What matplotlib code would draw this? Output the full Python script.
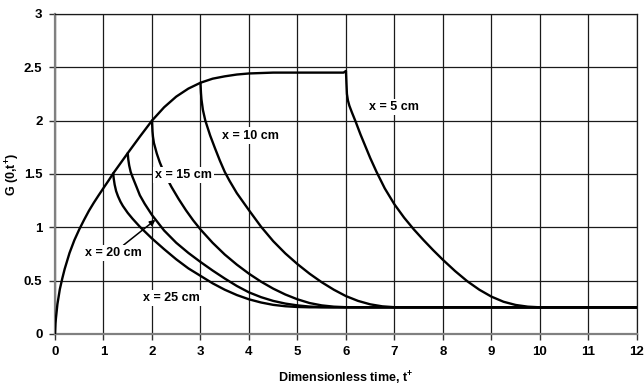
import matplotlib
matplotlib.use('Agg')
import matplotlib.pyplot as plt

plt.rcParams['font.family'] = ['Liberation Sans', 'DejaVu Sans']
plt.rcParams['font.weight'] = 'bold'
plt.rcParams['mathtext.fontset'] = 'custom'
plt.rcParams['mathtext.rm'] = 'Liberation Sans:bold'
plt.rcParams['mathtext.default'] = 'rm'

# surface response while the source is on
t_rise = [0, 0.01, 0.02, 0.05, 0.1, 0.15, 0.2, 0.3, 0.4, 0.5, 0.6, 0.7, 0.8, 0.9,
          1.0, 1.1, 1.2, 1.35, 1.5, 1.75, 2.0, 2.25, 2.5, 2.75, 3.0, 3.25, 3.5,
          3.75, 4.0, 4.5, 5.0, 5.5, 5.95, 6.0]
g_rise = [0, 0.10, 0.15, 0.28, 0.42, 0.52, 0.61, 0.76, 0.88, 0.98, 1.07, 1.155, 1.23, 1.30,
          1.368, 1.435, 1.505, 1.60, 1.695, 1.85, 2.00, 2.125, 2.225, 2.30, 2.355, 2.393, 2.415,
          2.432, 2.442, 2.45, 2.45, 2.45, 2.45, 2.465]

# decay after the source is switched off, one branch per distance
t_x5 = [6.0, 6.01, 6.02, 6.04, 6.07, 6.12, 6.2, 6.3, 6.4, 6.5, 6.63, 6.8, 7.0, 7.2,
        7.4, 7.6, 7.8, 8.0, 8.25, 8.5, 8.75, 9.0, 9.25, 9.5, 9.75, 10.0, 12.0]
g_x5 = [2.465, 2.35, 2.25, 2.19, 2.14, 2.08, 1.99, 1.87, 1.76, 1.65, 1.52, 1.365, 1.215, 1.09,
        0.98, 0.88, 0.785, 0.695, 0.59, 0.495, 0.415, 0.35, 0.302, 0.272, 0.256, 0.25, 0.25]

t_x10 = [3.0, 3.01, 3.02, 3.05, 3.1, 3.2, 3.3, 3.4, 3.5, 3.6, 3.75, 4.0, 4.25, 4.5,
         4.75, 5.0, 5.25, 5.5, 5.75, 6.0, 6.25, 6.5, 6.75, 7.0, 7.25, 12.0]
g_x10 = [2.355, 2.26, 2.20, 2.10, 2.00, 1.86, 1.74, 1.625, 1.52, 1.435, 1.32, 1.16, 1.005, 0.87,
         0.755, 0.655, 0.565, 0.485, 0.415, 0.355, 0.31, 0.278, 0.259, 0.251, 0.25, 0.25]

t_x15 = [2.0, 2.01, 2.02, 2.04, 2.07, 2.1, 2.16, 2.25, 2.4, 2.55, 2.7, 2.85, 3.0, 3.25,
         3.5, 3.75, 4.0, 4.25, 4.5, 4.75, 5.0, 5.25, 5.5, 5.75, 6.0, 6.25, 12.0]
g_x15 = [2.0, 1.90, 1.85, 1.79, 1.74, 1.69, 1.61, 1.51, 1.38, 1.265, 1.16, 1.065, 0.98, 0.855,
         0.745, 0.65, 0.565, 0.49, 0.425, 0.37, 0.325, 0.29, 0.268, 0.256, 0.251, 0.25, 0.25]

t_x20 = [1.5, 1.51, 1.53, 1.56, 1.6, 1.68, 1.75, 1.85, 2.0, 2.25, 2.5, 2.75, 3.0, 3.25,
         3.5, 3.75, 4.0, 4.25, 4.5, 4.75, 5.0, 5.25, 5.5, 5.75, 12.0]
g_x20 = [1.695, 1.64, 1.58, 1.52, 1.47, 1.38, 1.30, 1.22, 1.115, 0.97, 0.855, 0.76, 0.675, 0.595,
         0.52, 0.45, 0.39, 0.345, 0.31, 0.285, 0.268, 0.257, 0.252, 0.25, 0.25]

t_x25 = [1.2, 1.21, 1.23, 1.26, 1.3, 1.35, 1.4, 1.5, 1.6, 1.75, 2.0, 2.25, 2.5, 2.75,
         3.0, 3.25, 3.5, 3.75, 4.0, 4.25, 4.5, 4.75, 5.0, 5.25, 12.0]
g_x25 = [1.505, 1.46, 1.40, 1.34, 1.29, 1.24, 1.20, 1.135, 1.08, 1.005, 0.895, 0.795, 0.70, 0.615,
         0.545, 0.475, 0.415, 0.365, 0.325, 0.295, 0.273, 0.26, 0.253, 0.25, 0.25]

x_ticks = list(range(0, 13))
y_ticks = [0, 0.5, 1, 1.5, 2, 2.5, 3]
y_ticklabels = ['0', '0.5', '1', '1.5', '2', '2.5', '3']

fig = plt.figure(figsize=(6.44, 3.87), dpi=100)
ax = fig.add_axes([0.0854, 0.137, 0.9036, 0.827])

ax.set_xlim(0, 12)
ax.set_ylim(0, 3)
ax.set_xticks(x_ticks)
ax.set_yticks(y_ticks)
ax.set_yticklabels(y_ticklabels)
ax.grid(True, color='#1a1a1a', linewidth=0.9)
ax.set_axisbelow(True)
for side in ['left', 'bottom']:
    ax.spines[side].set_color('#808080')
    ax.spines[side].set_linewidth(1.6)
for side in ['top', 'right']:
    ax.spines[side].set_color('#1a1a1a')
    ax.spines[side].set_linewidth(0.9)
ax.tick_params(axis='both', direction='out', length=4, width=1, color='#333333',
               labelsize=9.5, pad=5)
for lab in ax.get_xticklabels() + ax.get_yticklabels():
    lab.set_fontweight('bold')

kw = dict(color='black', linewidth=1.7, solid_capstyle='round',
          solid_joinstyle='round', zorder=3)
ax.plot(t_rise, g_rise, **kw)
ax.plot(t_x5, g_x5, **kw)
ax.plot(t_x10, g_x10, **kw)
ax.plot(t_x15, g_x15, **kw)
ax.plot(t_x20, g_x20, **kw)
ax.plot(t_x25, g_x25, **kw)

# curve labels sit on white boxes that break the grid behind them
box = dict(facecolor='white', edgecolor='none', pad=1.5)
tkw = dict(fontsize=9, fontweight='bold', ha='center', va='center', zorder=4, bbox=box)
ax.text(6.99, 2.13, 'x = 5 cm', **tkw)
ax.text(4.03, 1.86, 'x = 10 cm', **tkw)
ax.text(2.65, 1.49, 'x = 15 cm', **tkw)
ax.text(2.41, 0.335, 'x = 25 cm', **tkw)
ax.annotate('x = 20 cm', xy=(2.07, 1.07), xytext=(1.2, 0.756), **tkw,
            arrowprops=dict(arrowstyle='-|>', color='black', lw=1.1,
                            mutation_scale=8, shrinkA=0, shrinkB=0))

ax.set_xlabel(r'Dimensionless time, t$^{+}$', fontsize=9, fontweight='bold', labelpad=8)
ax.set_ylabel(r'G (0,t$^{+}$)', fontsize=9, fontweight='bold')
ax.yaxis.set_label_coords(-0.057, 0.5)

fig.savefig('out.png', dpi=100)
